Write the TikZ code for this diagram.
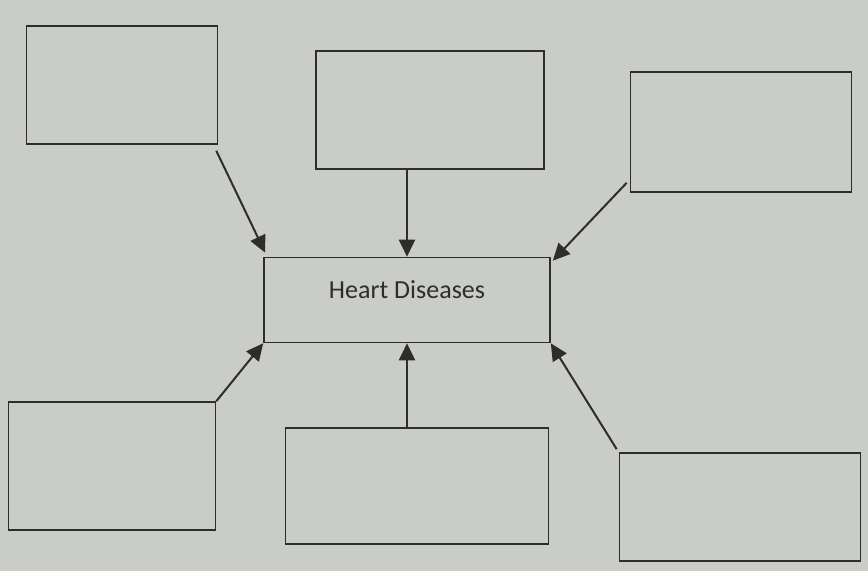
\documentclass[tikz,border=0pt]{standalone}
\usepackage{fontspec}
\setmainfont{Carlito}
\usetikzlibrary{arrows.meta}
\definecolor{paper}{RGB}{202,204,200}
\definecolor{ink}{RGB}{45,45,45}
\tikzset{
  blank/.style={draw=ink, line width=1.6pt, rectangle, inner sep=0pt},
  conn/.style={draw=ink, line width=2pt, -{Triangle[length=17pt,width=16pt]}}
}
\begin{document}
\begin{tikzpicture}[x=1pt,y=-1pt]
\fill[paper] (0,0) rectangle (868,571);
\useasboundingbox (0,0) rectangle (868,571);
\node[blank, minimum width=191pt, minimum height=118pt] (tl) at (122,85) {};
\node[blank, minimum width=228pt, minimum height=118pt] (tm) at (430,110) {};
\node[blank, minimum width=221pt, minimum height=120pt] (tr) at (741,132) {};
\node[blank, minimum width=286pt, minimum height=85pt] (c) at (407,300) {};
\node[font=\fontsize{26}{30}\selectfont, text=ink] (lbl) at (407,290) {Heart Diseases};
\node[blank, minimum width=207pt, minimum height=128pt] (bl) at (112,466) {};
\node[blank, minimum width=263pt, minimum height=116pt] (bm) at (417,486) {};
\node[blank, minimum width=241pt, minimum height=108pt] (br) at (740,507) {};
\coordinate (tls) at ([shift={(-2,6)}]tl.south east);
\coordinate (trs) at ([shift={(-3,-10)}]tr.south west);
\coordinate (brs) at ([shift={(-2,-3)}]br.north west);
\draw[conn] (tls) -- ([shift={(2,-4)}]c.north west);
\draw[conn] (tm.south -| c.north) -- (c.north);
\draw[conn] (trs) -- ([shift={(2,4)}]c.north east);
\draw[conn] (bl.north east) -- (c.south west);
\draw[conn] (bm.north -| c.south) -- (c.south);
\draw[conn] (brs) -- (c.south east);
\end{tikzpicture}
\end{document}
